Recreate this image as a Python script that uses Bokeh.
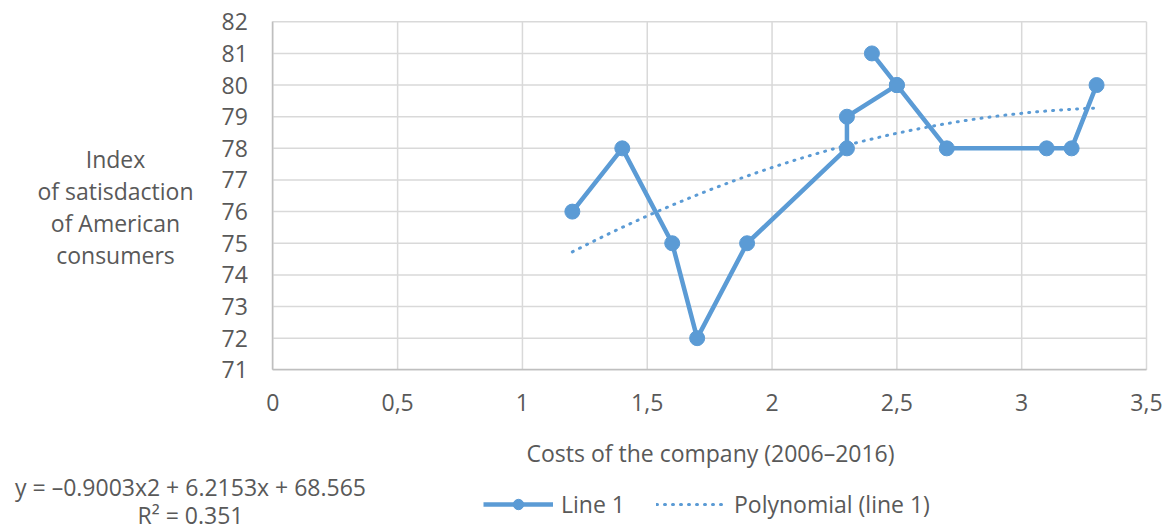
from bokeh.plotting import figure
from bokeh.models import Range1d, FixedTicker, Label, Legend, LegendItem
from bokeh.embed import file_html
from bokeh.resources import INLINE
import numpy as np

# data (in series order)
costs = [1.2, 1.4, 1.6, 1.7, 1.9, 2.3, 2.3, 2.5, 2.4, 2.5, 2.7, 3.1, 3.2, 3.3]
index_vals = [76, 78, 75, 72, 75, 78, 79, 80, 81, 80, 78, 78, 78, 80]
trend_coeffs = [-0.9003, 6.2153, 68.565]
x_ticks = [0, 0.5, 1, 1.5, 2, 2.5, 3, 3.5]
x_tick_labels = ["0", "0,5", "1", "1,5", "2", "2,5", "3", "3,5"]
y_ticks = list(range(71, 83))
x_title = "Costs of the company (2006–2016)"
y_title_lines = ["Index", "of satisdaction", "of American", "consumers"]
equation = "y = –0.9003x2 + 6.2153x + 68.565"
r2_text = "R² = 0.351"

FONT = "Open Sans"
FS = "23px"
TXT = "#595959"
BLUE = "#5b9bd5"
GRID = "#d9d9d9"

W, H = 1170, 531
XMIN, XMAX, YMIN, YMAX = 0, 3.5, 71, 82
# pixel position of the plot area inside the canvas
PX_L, PX_R, PY_T, PY_B = 272.3, 1146.0, 21.3, 369.3


def dx(px):
    return XMIN + (px - PX_L) * (XMAX - XMIN) / (PX_R - PX_L)


def dy(py):
    return YMAX - (py - PY_T) * (YMAX - YMIN) / (PY_B - PY_T)


p = figure(width=W, height=H, output_backend="svg", toolbar_location=None,
           x_range=Range1d(dx(0), dx(W)), y_range=Range1d(dy(H), dy(0)),
           min_border=0)
p.outline_line_color = None
p.background_fill_color = "white"
p.border_fill_color = "white"
p.xgrid.visible = False
p.ygrid.visible = False

# grid lines limited to the plot area
p.segment(x0=x_ticks, y0=[YMIN] * len(x_ticks), x1=x_ticks, y1=[YMAX] * len(x_ticks),
          line_color=GRID, line_width=1.5)
p.segment(x0=[XMIN] * len(y_ticks), y0=y_ticks, x1=[XMAX] * len(y_ticks), y1=y_ticks,
          line_color=GRID, line_width=1.5)

p.xaxis.fixed_location = YMIN
p.yaxis.fixed_location = XMIN
p.xaxis.bounds = (XMIN, XMAX)
p.yaxis.bounds = (YMIN, YMAX)
p.xaxis.ticker = FixedTicker(ticks=x_ticks)
p.yaxis.ticker = FixedTicker(ticks=y_ticks)
p.xaxis.major_label_overrides = {t: l for t, l in zip(x_ticks, x_tick_labels)}
for ax in (p.xaxis[0], p.yaxis[0]):
    ax.axis_line_color = "#bfbfbf"
    ax.axis_line_width = 1.5
    ax.major_tick_line_color = None
    ax.minor_tick_line_color = None
    ax.major_label_text_font = FONT
    ax.major_label_text_font_size = FS
    ax.major_label_text_color = TXT
p.xaxis.major_label_standoff = 18
p.yaxis.major_label_standoff = 19

# trendline (polynomial of order 2, coefficients shown on the chart)
tx = np.linspace(min(costs), max(costs), 60)
ty = np.polyval(trend_coeffs, tx)
r_trend = p.line(tx, ty, line_color=BLUE, line_width=3, line_dash="1 7", line_cap="round")

r_line = p.line(costs, index_vals, line_color=BLUE, line_width=4.5, line_join="round")
r_pts = p.scatter(costs, index_vals, size=15, fill_color=BLUE, line_color=BLUE)

legend = Legend(items=[LegendItem(label="Line 1", renderers=[r_line, r_pts]),
                       LegendItem(label="Polynomial (line 1)", renderers=[r_trend])],
                orientation="horizontal", location=(483, 11),
                label_text_font=FONT, label_text_font_size=FS, label_text_color=TXT,
                border_line_color=None, background_fill_alpha=0,
                glyph_width=70, glyph_height=26, spacing=31, label_standoff=8,
                padding=2, margin=0)
p.add_layout(legend, "center")


def add_text(txt, px, py, align="center"):
    p.add_layout(Label(x=dx(px), y=dy(py), text=txt, text_align=align,
                       text_baseline="middle", text_font=FONT,
                       text_font_size=FS, text_color=TXT))


add_text(x_title, 710, 452)
for line, mid in zip(y_title_lines, [158.0, 190.4, 222.1, 254.8]):
    add_text(line, 115, mid)
add_text(equation, 190, 486.5)
add_text(r2_text, 190, 514.5)

open("out.html", "w").write(file_html(p, INLINE))
